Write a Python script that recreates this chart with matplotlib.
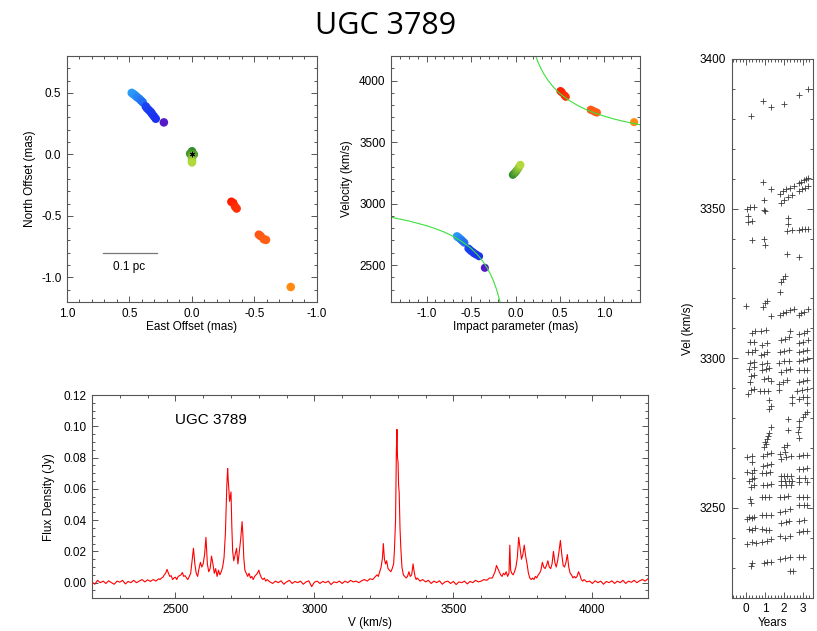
import numpy as np
import matplotlib
matplotlib.use('Agg')
import matplotlib.pyplot as plt
from matplotlib.colors import LinearSegmentedColormap, Normalize
from matplotlib.ticker import MultipleLocator, FormatStrFormatter

plt.rcParams['font.family'] = ['Liberation Sans', 'DejaVu Sans']
plt.rcParams['axes.unicode_minus'] = False
plt.rcParams['font.size'] = 8.5

# maser spots: east offset, north offset (mas), impact parameter (mas), velocity (km/s)
east_off = [0.482, 0.47, 0.46, 0.45, 0.44, 0.425, 0.41, 0.395,
            0.37, 0.36, 0.345, 0.33, 0.32, 0.305, 0.29,
            0.225,
            0.0, 0.015, -0.015, 0.0, 0.0, 0.0, 0.0,
            -0.315, -0.33, -0.345, -0.357,
            -0.535, -0.55, -0.575, -0.592,
            -0.79]
north_off = [0.50, 0.49, 0.485, 0.475, 0.465, 0.455, 0.44, 0.425,
             0.39, 0.375, 0.36, 0.345, 0.33, 0.31, 0.29,
             0.26,
             0.025, 0.005, 0.0, -0.01, -0.03, -0.05, -0.065,
             -0.385, -0.395, -0.425, -0.44,
             -0.653, -0.665, -0.69, -0.695,
             -1.078]
impact = [-0.66, -0.65, -0.645, -0.635, -0.62, -0.61, -0.595, -0.575,
          -0.53, -0.515, -0.5, -0.48, -0.465, -0.44, -0.41,
          -0.345,
          -0.03, -0.015, 0.0, 0.01, 0.025, 0.04, 0.055,
          0.505, 0.52, 0.55, 0.565,
          0.845, 0.87, 0.895, 0.915,
          1.333]
spot_vel = [2735, 2730, 2725, 2722, 2712, 2705, 2695, 2682,
            2635, 2625, 2615, 2605, 2595, 2585, 2572,
            2478,
            3234, 3245, 3255, 3265, 3280, 3298, 3315,
            3915, 3905, 3880, 3868,
            3763, 3755, 3745, 3740,
            3662]

# rotation curve
curve_hi_b = [0.227, 0.25, 0.28, 0.32, 0.37, 0.43, 0.5, 0.6, 0.7, 0.8, 0.9, 1.0, 1.1, 1.2, 1.3, 1.4]
curve_hi_v = [4200, 4155, 4106, 4052, 3997, 3944, 3894, 3840, 3797, 3762, 3734, 3710, 3689, 3671, 3655, 3641]
curve_lo_b = [-1.4, -1.2, -1.0, -0.9, -0.8, -0.7, -0.6, -0.5, -0.43, -0.37, -0.32, -0.28, -0.25, -0.22, -0.2, -0.182, -0.175]
curve_lo_v = [2889, 2859, 2820, 2796, 2768, 2733, 2690, 2636, 2586, 2533, 2478, 2424, 2375, 2316, 2270, 2222, 2201]

# spectrum (velocity km/s, flux Jy)
spectrum = [
    (2200, 0.0005), (2210, -0.001), (2220, 0.0015), (2230, 0.0), (2240, 0.001), (2250, -0.0005),
    (2260, 0.0012), (2270, 0.0), (2280, -0.001), (2290, 0.001), (2300, 0.0003), (2310, 0.0015),
    (2320, -0.0008), (2330, 0.0008), (2340, 0.0), (2350, 0.0015), (2360, 0.0), (2370, 0.001),
    (2380, 0.002), (2390, 0.0005), (2400, 0.0018), (2410, 0.0008), (2420, 0.002), (2430, 0.001),
    (2440, 0.0025), (2445, 0.002), (2450, 0.003), (2455, 0.0035), (2460, 0.005), (2465, 0.006),
    (2470, 0.0085), (2475, 0.006), (2480, 0.004), (2485, 0.0045), (2490, 0.002), (2495, 0.003),
    (2500, 0.0035), (2505, 0.002), (2510, 0.004), (2515, 0.0045), (2520, 0.005), (2525, 0.0065),
    (2530, 0.004), (2535, 0.0045), (2540, 0.003), (2545, 0.002), (2550, 0.004), (2555, 0.006),
    (2560, 0.014), (2565, 0.022), (2570, 0.012), (2575, 0.006), (2580, 0.004), (2585, 0.009),
    (2590, 0.013), (2595, 0.010), (2600, 0.012), (2605, 0.018), (2610, 0.029), (2615, 0.012),
    (2620, 0.007), (2625, 0.009), (2630, 0.017), (2635, 0.012), (2640, 0.006), (2645, 0.009),
    (2650, 0.004), (2655, 0.008), (2660, 0.005), (2665, 0.007), (2670, 0.010), (2675, 0.016),
    (2680, 0.032), (2685, 0.062), (2688, 0.073), (2690, 0.066), (2695, 0.052), (2700, 0.058),
    (2703, 0.036), (2706, 0.020), (2710, 0.014), (2715, 0.018), (2720, 0.022), (2725, 0.012),
    (2730, 0.020), (2735, 0.028), (2740, 0.039), (2743, 0.030), (2746, 0.016), (2750, 0.008),
    (2755, 0.006), (2760, 0.004), (2765, 0.006), (2770, 0.003), (2775, 0.004), (2780, 0.002),
    (2785, 0.004), (2790, 0.005), (2795, 0.006), (2800, 0.008), (2805, 0.005), (2810, 0.003),
    (2815, 0.002), (2820, 0.003), (2825, 0.001), (2830, 0.002),
    (2840, 0.0005), (2850, -0.0005), (2860, 0.001), (2870, 0.0), (2880, 0.0012), (2890, -0.001),
    (2900, 0.0005), (2910, 0.0015), (2920, -0.0005), (2930, 0.0008), (2940, 0.0), (2950, 0.001),
    (2960, -0.001), (2970, 0.0005), (2980, 0.0012), (2990, -0.0025), (3000, 0.0003), (3010, 0.001),
    (3020, -0.0005), (3030, 0.0008), (3040, 0.0), (3050, 0.001), (3060, -0.0012), (3070, 0.0005),
    (3080, 0.0), (3090, 0.001), (3100, -0.0005), (3110, 0.001), (3120, 0.0), (3130, 0.0015),
    (3140, 0.0005), (3150, 0.001), (3160, 0.0), (3170, 0.0012), (3180, 0.002), (3190, 0.001),
    (3200, 0.0025), (3210, 0.002), (3220, 0.004),
    (3225, 0.005), (3230, 0.004), (3235, 0.007), (3240, 0.010), (3245, 0.016), (3248, 0.025),
    (3252, 0.015), (3256, 0.012), (3260, 0.014), (3265, 0.009), (3270, 0.008), (3275, 0.007),
    (3280, 0.009), (3285, 0.012), (3288, 0.021), (3292, 0.040), (3295, 0.085), (3297, 0.098),
    (3299, 0.080), (3301, 0.077), (3303, 0.062), (3305, 0.058), (3308, 0.035), (3311, 0.022),
    (3315, 0.010), (3320, 0.005), (3325, 0.004), (3330, 0.003), (3335, 0.004), (3340, 0.007),
    (3345, 0.004), (3350, 0.005), (3355, 0.012), (3358, 0.008), (3362, 0.004), (3366, 0.002),
    (3370, 0.003),
    (3380, 0.001), (3390, 0.002), (3400, 0.0005), (3410, 0.0015), (3420, -0.0005), (3430, 0.001),
    (3440, 0.0), (3450, 0.0012), (3460, -0.001), (3470, 0.0005), (3480, 0.001), (3490, -0.0005),
    (3500, 0.0008), (3510, -0.0012), (3520, 0.0005), (3530, 0.0), (3540, 0.001), (3550, -0.0008),
    (3560, 0.0008), (3570, 0.0), (3580, 0.0015), (3590, 0.0005), (3600, 0.001), (3610, 0.002),
    (3620, 0.0015), (3630, 0.003), (3640, 0.003),
    (3645, 0.005), (3650, 0.007), (3655, 0.011), (3660, 0.009), (3665, 0.007), (3670, 0.005),
    (3675, 0.004), (3680, 0.006), (3685, 0.005), (3690, 0.007), (3695, 0.004), (3700, 0.006),
    (3703, 0.024), (3706, 0.008), (3710, 0.006), (3715, 0.005), (3720, 0.007), (3725, 0.010),
    (3730, 0.016), (3735, 0.029), (3740, 0.022), (3745, 0.015), (3750, 0.018), (3755, 0.024),
    (3760, 0.017), (3765, 0.012), (3770, 0.006), (3775, 0.003), (3780, 0.002), (3785, 0.003),
    (3790, 0.002), (3795, 0.004), (3800, 0.003), (3805, 0.005), (3810, 0.006), (3815, 0.008),
    (3820, 0.013), (3825, 0.010), (3830, 0.009), (3835, 0.011), (3840, 0.014), (3845, 0.010),
    (3850, 0.009), (3855, 0.012), (3860, 0.020), (3865, 0.013), (3870, 0.010), (3875, 0.014),
    (3880, 0.020), (3885, 0.027), (3890, 0.018), (3895, 0.011), (3900, 0.010), (3905, 0.013),
    (3910, 0.018), (3915, 0.010), (3920, 0.006), (3925, 0.005), (3930, 0.003), (3935, 0.004),
    (3940, 0.003), (3945, 0.004), (3950, 0.007), (3955, 0.005), (3960, 0.002), (3965, 0.001),
    (3970, 0.002),
    (3980, 0.0005), (3990, 0.001), (4000, -0.0005), (4010, 0.0012), (4020, 0.0), (4030, 0.001),
    (4040, -0.001), (4050, 0.0008), (4060, 0.0), (4070, 0.0012), (4080, -0.0005), (4090, 0.001),
    (4100, 0.0), (4110, 0.0015), (4120, -0.0005), (4130, 0.001), (4140, 0.0002), (4150, 0.0015),
    (4160, 0.0), (4170, 0.0012), (4180, 0.002), (4190, 0.001), (4200, 0.0025),
]

# monitoring: (years, velocity km/s)
monitor = [
    (0.26, 3381), (0.91, 3386), (1.32, 3384), (2.02, 3385), (2.77, 3388), (3.23, 3390),
    (0.91, 3359), (1.32, 3356.5), (0.96, 3353),
    (1.81, 3355), (1.95, 3356), (2.1, 3356.5), (2.3, 3357), (2.52, 3357.6),
    (1.86, 3352), (2.0, 3353), (2.2, 3354), (2.4, 3354.5),
    (2.77, 3358.5), (2.9, 3359), (3.05, 3359.5), (3.15, 3360), (3.28, 3360.3),
    (2.77, 3356), (2.95, 3356.5), (3.1, 3357), (3.23, 3357.5),
    (0.05, 3350), (0.2, 3350.5), (0.4, 3350.7), (0.1, 3347.7), (0.1, 3345.5), (0.3, 3346),
    (0.93, 3349.6), (1.0, 3349.3),
    (0.3, 3339.5), (0.93, 3340), (1.0, 3338),
    (2.23, 3347), (2.2, 3345), (2.15, 3342.5), (2.4, 3343),
    (2.77, 3343), (2.95, 3343.2), (3.1, 3343.3), (3.27, 3343.3),
    (2.16, 3335), (2.77, 3334),
    (1.79, 3322), (1.86, 3325.6), (1.92, 3326.5), (2.05, 3327.5),
    (0.0, 3317.5), (0.9, 3317), (1.0, 3318.5), (1.1, 3319), (1.32, 3314),
    (1.8, 3314.5), (1.95, 3315), (2.1, 3315.5), (2.3, 3316), (2.5, 3316.5),
    (2.77, 3314.5), (2.9, 3315), (3.05, 3315.5), (3.23, 3316.5),
    (2.3, 3309),
    (0.3, 3308.5), (0.45, 3309), (0.2, 3305.3), (0.4, 3305.5),
    (0.1, 3302), (0.3, 3302.2), (0.45, 3302.8), (0.2, 3298.5), (0.4, 3298.8),
    (0.15, 3296.5), (0.4, 3297), (0.25, 3294), (0.4, 3294.5), (0.2, 3292),
    (0.25, 3289.5), (0.4, 3289.8), (0.1, 3288),
    (0.8, 3309), (1.05, 3309.5), (0.85, 3304.5), (1.1, 3305),
    (0.8, 3301), (0.95, 3301.5), (1.1, 3302), (0.85, 3298), (1.1, 3298.5),
    (0.85, 3296), (1.05, 3296.3), (1.2, 3296.6), (0.95, 3293), (1.15, 3293.5), (1.3, 3292.5),
    (1.15, 3289), (0.75, 3289), (0.95, 3289), (1.2, 3286), (1.3, 3284), (1.2, 3283),
    (1.85, 3306), (2.05, 3306.5), (2.25, 3307),
    (1.8, 3302), (2.0, 3302.3), (2.25, 3302.7), (1.75, 3298.5), (2.0, 3299), (2.25, 3299.2),
    (1.85, 3295.5), (2.1, 3296), (2.3, 3296.5), (1.75, 3291.5), (1.95, 3292.2), (2.15, 3292.7),
    (1.75, 3289.5), (2.4, 3287), (2.4, 3285),
    (2.8, 3308), (3.05, 3308.5), (3.2, 3309), (2.77, 3305), (3.0, 3305.5), (3.23, 3306),
    (2.77, 3302), (2.97, 3302.5), (3.2, 3302.7), (2.77, 3299), (3.0, 3299.5), (3.2, 3299.8),
    (2.8, 3296), (3.05, 3296), (3.2, 3296), (2.77, 3292), (3.0, 3292.3), (3.2, 3292.6),
    (2.7, 3289), (2.95, 3289.5), (3.2, 3289.8), (2.77, 3286.5), (3.0, 3287), (3.2, 3287.2),
    (3.2, 3285),
    (2.2, 3279.6), (2.2, 3276), (2.8, 3279), (2.97, 3280.5), (3.1, 3281.5), (3.2, 3282),
    (2.77, 3273.5), (2.75, 3275.5), (2.8, 3277),
    (1.3, 3277), (1.22, 3275), (1.17, 3274), (1.1, 3273), (1.02, 3272), (0.95, 3270.5), (1.05, 3271.5),
    (2.0, 3270.5), (2.15, 3271),
    (0.05, 3267), (0.3, 3267.5), (0.3, 3265.5),
    (0.9, 3267.5), (1.1, 3268), (1.3, 3268.3), (0.9, 3264), (1.1, 3264.3), (1.3, 3264.6),
    (0.85, 3261.5), (1.05, 3261.7), (1.25, 3262),
    (1.8, 3268), (2.05, 3268.6), (1.85, 3266.5), (2.1, 3267), (2.35, 3267.2),
    (2.77, 3267.5), (3.0, 3267.8), (3.2, 3267.8),
    (0.05, 3262), (0.3, 3261.5), (0.4, 3262.5), (0.15, 3259), (0.3, 3259.5), (0.4, 3260),
    (0.25, 3257), (0.4, 3257.5),
    (1.85, 3260.5), (2.0, 3260.5), (2.15, 3260.5), (2.35, 3260.5),
    (1.85, 3259), (2.05, 3259), (2.25, 3259), (2.4, 3259),
    (1.85, 3257.5), (2.1, 3257.5), (2.35, 3257.5),
    (2.77, 3263), (3.0, 3263), (3.2, 3263.3), (2.77, 3260), (3.1, 3260), (2.77, 3258.5), (3.2, 3258.8),
    (0.9, 3257.5), (1.1, 3257.7), (1.3, 3258),
    (0.2, 3253), (0.25, 3251.5), (0.85, 3253.5), (1.0, 3253.7), (1.2, 3253.8),
    (1.8, 3253.5), (2.0, 3253.7), (2.2, 3254), (2.77, 3253.5), (3.0, 3253.6), (3.2, 3253.6),
    (2.77, 3251), (3.05, 3251), (3.2, 3251), (1.8, 3248.5), (2.05, 3249), (2.3, 3249.5),
    (0.15, 3247), (0.05, 3246.3), (0.3, 3246.5), (0.4, 3247),
    (0.85, 3247.5), (1.05, 3247.5), (1.3, 3247.5), (2.77, 3245.5), (3.05, 3246),
    (1.85, 3245), (2.1, 3245.2), (2.25, 3245.5),
    (0.15, 3243), (0.3, 3242.7), (0.45, 3243.3), (0.85, 3243), (1.05, 3242.5), (1.2, 3242.7),
    (1.8, 3240.5), (2.05, 3240), (2.3, 3240.5), (2.77, 3242), (3.0, 3242.3), (3.2, 3242.3),
    (0.05, 3238), (0.3, 3238.5), (0.5, 3238.2), (0.85, 3238.5), (1.1, 3239), (1.3, 3239.5),
    (2.77, 3233.5), (3.0, 3233.5), (1.8, 3233), (2.05, 3233.3), (2.3, 3233.6),
    (0.95, 3231.5), (1.1, 3231.8), (1.3, 3232), (0.3, 3231.5), (0.25, 3230.5),
    (2.3, 3229), (2.45, 3229),
]

# colour scale by velocity
vmin, vmax = 2470, 3920
col_nodes = [(2470, '#5a18c4'), (2570, '#1c2ff0'), (2640, '#1848f2'), (2730, '#2c9cf8'),
             (3230, '#2f8a2a'), (3320, '#b6da3c'), (3660, '#ff8c12'), (3760, '#ff5614'),
             (3920, '#ff1c00')]
cmap = LinearSegmentedColormap.from_list(
    'maser', [((v - vmin) / (vmax - vmin), c) for v, c in col_nodes])
norm = Normalize(vmin, vmax)

FRAME = '#555555'


def style(ax, xmaj, xmin, ymaj, ymin, xfmt=None, yfmt=None):
    ax.xaxis.set_major_locator(MultipleLocator(xmaj))
    ax.xaxis.set_minor_locator(MultipleLocator(xmin))
    ax.yaxis.set_major_locator(MultipleLocator(ymaj))
    ax.yaxis.set_minor_locator(MultipleLocator(ymin))
    if xfmt:
        ax.xaxis.set_major_formatter(FormatStrFormatter(xfmt))
    if yfmt:
        ax.yaxis.set_major_formatter(FormatStrFormatter(yfmt))
    ax.tick_params(which='both', direction='in', top=True, right=True,
                   color=FRAME, width=0.7, labelsize=8.5, pad=4)
    ax.tick_params(which='major', length=4.5)
    ax.tick_params(which='minor', length=2.5)
    for s in ax.spines.values():
        s.set_color(FRAME)
        s.set_linewidth(0.8)


fig = plt.figure(figsize=(8.17, 6.31), dpi=100)
fig.text(0.4725, 0.959, 'UGC 3789', ha='center', va='center', fontsize=22,
         family=['Open Sans', 'DejaVu Sans'])

# sky map
ax1 = fig.add_axes([0.0820, 0.5214, 0.3060, 0.3899])
ax1.scatter(east_off, north_off, c=spot_vel, cmap=cmap, norm=norm, s=38, edgecolors='none')
ax1.plot([0], [0], marker=(6, 2, 0), color='black', ms=4, mew=0.6)
ax1.plot([0.71, 0.283], [-0.80, -0.80], color='#777777', lw=0.9)
ax1.text(0.50, -0.915, '0.1 pc', ha='center', va='center', fontsize=8.5)
ax1.set_xlim(1.0, -1.0)
ax1.set_ylim(-1.2, 0.8)
style(ax1, 0.5, 0.1, 0.5, 0.1, '%.1f', '%.1f')
ax1.set_xlabel('East Offset (mas)', labelpad=1)
ax1.set_ylabel('North Offset (mas)', labelpad=4)

# position-velocity
ax2 = fig.add_axes([0.4786, 0.5214, 0.3048, 0.3899])
ax2.plot(curve_hi_b, curve_hi_v, color='#3ce03c', lw=0.8)
ax2.plot(curve_lo_b, curve_lo_v, color='#3ce03c', lw=0.8)
ax2.scatter(impact, spot_vel, c=spot_vel, cmap=cmap, norm=norm, s=34, edgecolors='none')
ax2.set_xlim(-1.4, 1.4)
ax2.set_ylim(2200, 4200)
style(ax2, 0.5, 0.1, 500, 100, '%.1f', '%d')
ax2.set_xlabel('Impact parameter (mas)', labelpad=1)
ax2.set_ylabel('Velocity (km/s)', labelpad=4)

# spectrum
sv, sf = np.array(spectrum).T
ax3 = fig.add_axes([0.1126, 0.0518, 0.6805, 0.3222])
ax3.plot(sv, sf, color='red', lw=0.8)
ax3.text(2500, 0.104, 'UGC 3789', ha='left', va='center', fontsize=11)
ax3.set_xlim(2200, 4200)
ax3.set_ylim(-0.01, 0.12)
style(ax3, 500, 100, 0.02, 0.005, '%d', '%.2f')
ax3.set_xlabel('V (km/s)', labelpad=1)
ax3.set_ylabel('Flux Density (Jy)', labelpad=6)

# velocity drifts
my, mv = np.array(monitor).T
ax4 = fig.add_axes([0.8956, 0.0528, 0.0991, 0.8537])
ax4.plot(my, mv, linestyle='none', marker='+', color='#3a3a3a', ms=5, mew=0.6)
ax4.set_xlim(-0.75, 3.5)
ax4.set_ylim(3220, 3400)
style(ax4, 1, 1 / 6, 50, 10, '%d', '%d')
ax4.set_xlabel('Years', labelpad=1)
ax4.set_ylabel('Vel (km/s)', labelpad=4)

fig.savefig('out.png', dpi=100)
